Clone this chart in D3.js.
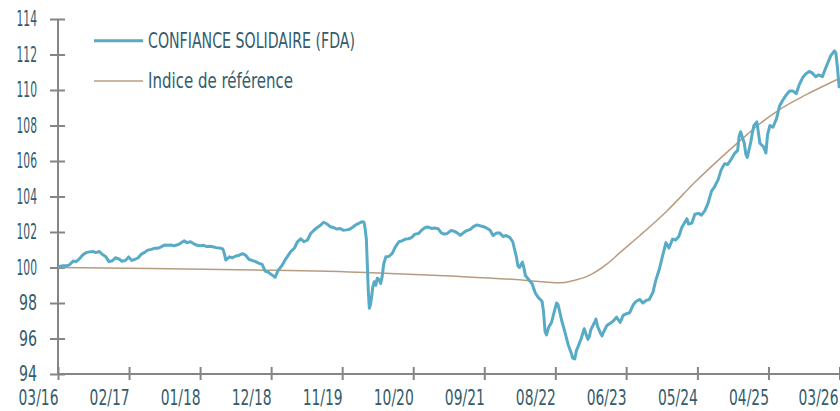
<!DOCTYPE html>
<html>
<head>
<meta charset="utf-8">
<script src="https://cdn.jsdelivr.net/npm/d3@7"></script>
<style>
  html, body { margin: 0; padding: 0; background: #fff; }
  svg { display: block; }
  text { font-family: 'Liberation Sans Narrow', 'DejaVu Sans Condensed', 'Liberation Sans', sans-serif; fill: #335c6c; }
</style>
</head>
<body>
<svg id="chart" width="840" height="411"></svg>
<script>
// ---------- DATA ----------
const seriesNames = ["CONFIANCE SOLIDAIRE (FDA)", "Indice de référence"];

const fdaDates = [
"2016-03-22","2016-04-15","2016-05-01","2016-05-15","2016-06-01","2016-06-15","2016-07-01","2016-07-15","2016-08-01","2016-08-15","2016-09-01","2016-09-15","2016-10-01","2016-10-15","2016-11-01","2016-11-15","2016-12-01","2016-12-15",
"2017-01-01","2017-01-15","2017-02-01","2017-02-15","2017-03-01","2017-03-15","2017-04-01","2017-04-15","2017-05-01","2017-05-15","2017-06-01","2017-06-15","2017-07-01","2017-07-15","2017-08-01","2017-08-15","2017-09-01","2017-09-15","2017-10-01","2017-10-15","2017-11-01","2017-11-15","2017-12-01","2017-12-15",
"2018-01-01","2018-01-15","2018-02-01","2018-02-15","2018-03-01","2018-03-15","2018-04-01","2018-04-15","2018-05-01","2018-05-08","2018-05-15","2018-06-01","2018-06-15","2018-07-01","2018-07-15","2018-08-01","2018-08-15","2018-09-01","2018-09-15","2018-10-01","2018-10-15","2018-11-01","2018-11-15","2018-12-01","2018-12-15",
"2019-01-01","2019-01-15","2019-02-01","2019-02-15","2019-03-01","2019-03-15","2019-04-01","2019-04-15","2019-05-01","2019-05-15","2019-06-01","2019-06-15","2019-07-01","2019-07-15","2019-08-01","2019-08-15","2019-09-01","2019-09-15","2019-10-01","2019-10-15","2019-11-01","2019-11-15","2019-12-01","2019-12-15",
"2020-01-01","2020-01-15","2020-02-01","2020-02-12","2020-02-20","2020-02-24","2020-03-02","2020-03-06","2020-03-11","2020-03-16","2020-03-20","2020-03-25","2020-04-01","2020-04-08","2020-04-15","2020-04-22","2020-05-01","2020-05-08","2020-05-15","2020-05-22","2020-06-01","2020-06-15","2020-07-01","2020-07-15","2020-08-01","2020-08-15","2020-09-01","2020-09-15","2020-10-01","2020-10-15","2020-11-01","2020-11-15","2020-12-01","2020-12-15",
"2021-01-01","2021-01-15","2021-02-01","2021-02-15","2021-03-01","2021-03-15","2021-04-01","2021-04-15","2021-05-01","2021-05-15","2021-06-01","2021-06-15","2021-07-01","2021-07-15","2021-08-01","2021-08-15","2021-09-01","2021-09-15","2021-10-01","2021-10-15","2021-11-01","2021-11-15","2021-12-01","2021-12-15",
"2022-01-01","2022-01-15","2022-02-01","2022-02-08","2022-02-15","2022-03-01","2022-03-08","2022-03-15","2022-04-01","2022-04-15","2022-05-01","2022-05-15","2022-06-01","2022-06-08","2022-06-15","2022-06-22","2022-07-01","2022-07-15","2022-08-01","2022-08-08","2022-08-15","2022-09-01","2022-09-15","2022-10-01","2022-10-15","2022-10-22","2022-11-01","2022-11-08","2022-11-15","2022-12-01","2022-12-15",
"2023-01-01","2023-01-08","2023-01-15","2023-02-01","2023-02-08","2023-02-15","2023-03-01","2023-03-08","2023-03-15","2023-04-01","2023-04-15","2023-05-01","2023-05-15","2023-06-01","2023-06-15","2023-07-01","2023-07-15","2023-08-01","2023-08-15","2023-09-01","2023-09-15","2023-10-01","2023-10-15","2023-11-01","2023-11-15","2023-12-01","2023-12-15",
"2024-01-01","2024-01-15","2024-02-01","2024-02-15","2024-03-01","2024-03-15","2024-04-01","2024-04-08","2024-04-15","2024-05-01","2024-05-15","2024-06-01","2024-06-15","2024-07-01","2024-07-15","2024-08-01","2024-08-15","2024-09-01","2024-09-15","2024-10-01","2024-10-15","2024-11-01","2024-11-15","2024-12-01","2024-12-08","2024-12-15",
"2025-01-01","2025-01-08","2025-01-15","2025-02-01","2025-02-08","2025-02-15","2025-03-01","2025-03-08","2025-03-15","2025-04-01","2025-04-08","2025-04-12","2025-04-20","2025-05-01","2025-05-15","2025-06-01","2025-06-15","2025-07-01","2025-07-15","2025-08-01","2025-08-15","2025-09-01","2025-09-15","2025-10-01","2025-10-15","2025-11-01","2025-11-15","2025-12-01","2025-12-15",
"2026-01-01","2026-01-15","2026-02-01","2026-02-10","2026-02-20","2026-02-26","2026-03-05","2026-03-12","2026-03-21"
];

const fdaValues = [
100.05,100.1,100.1,100.15,100.37,100.33,100.5,100.7,100.84,100.88,100.9,100.84,100.9,100.74,100.6,100.33,100.38,100.55,
100.48,100.35,100.4,100.6,100.4,100.45,100.55,100.75,100.85,100.98,101.02,101.08,101.08,101.15,101.27,101.25,101.27,101.22,101.28,101.36,101.5,101.4,101.45,101.35,
101.25,101.23,101.25,101.18,101.2,101.17,101.12,101.1,101.05,100.8,100.42,100.6,100.55,100.65,100.68,100.78,100.7,100.45,100.4,100.33,100.25,100.18,99.8,99.72,99.6,
99.45,99.85,100.1,100.4,100.65,100.9,101.1,101.45,101.62,101.45,101.55,101.9,102.1,102.24,102.38,102.55,102.45,102.3,102.25,102.17,102.2,102.1,102.12,102.15,
102.3,102.42,102.52,102.58,102.55,102.3,101.6,100.3,98.7,97.7,97.85,98.2,98.9,99.2,99.0,99.4,99.3,99.1,99.5,100.2,100.6,100.62,100.8,101.15,101.45,101.5,101.6,101.62,101.7,101.88,101.92,102.1,102.25,102.28,
102.2,102.22,102.18,101.95,101.88,101.92,102.08,102.05,101.95,101.82,101.98,102.08,102.15,102.3,102.4,102.35,102.3,102.22,102.1,101.8,101.95,101.95,101.75,101.8,
101.7,101.45,100.6,100.1,100.0,100.3,100.0,99.55,99.3,99.1,98.55,98.3,98.1,97.5,96.4,96.2,96.6,96.9,97.7,98.0,97.9,97.0,96.4,95.65,95.2,94.9,94.85,95.3,95.5,96.0,96.55,
95.95,96.1,96.5,96.9,97.1,96.7,96.3,96.15,96.35,96.75,96.85,97.0,97.2,96.9,97.3,97.4,97.45,97.9,98.1,98.2,98.0,98.15,98.2,98.6,99.3,99.9,100.6,
101.4,101.1,101.6,101.55,101.75,102.25,102.6,102.75,102.45,102.5,103.0,103.05,102.95,103.2,103.6,104.3,104.55,104.95,105.5,105.85,105.8,106.1,106.4,106.6,107.4,107.65,
107.0,106.4,106.2,107.1,107.6,108.0,108.2,107.6,107.0,106.8,106.6,106.45,107.5,108.0,107.9,108.4,109.1,109.45,109.7,109.95,109.95,109.8,110.3,110.7,110.9,111.05,110.95,110.75,110.85,
110.75,111.2,111.7,111.95,112.1,112.2,112.1,111.3,110.1
];

const refDates = ["2016-03-22","2017-06-01","2018-10-01","2020-03-01","2021-04-01","2022-04-01","2022-06-15","2022-08-01","2022-09-15","2022-11-01","2023-01-15","2023-04-01","2023-06-01","2023-09-01","2024-01-07","2024-05-15","2024-09-25","2025-01-15","2025-03-15","2025-06-15","2025-10-20","2026-03-21"];
const refValues = [100.0,99.95,99.86,99.72,99.52,99.26,99.18,99.14,99.16,99.28,99.6,100.2,100.85,101.8,103.2,104.8,106.3,107.5,108.1,108.9,109.75,110.65];

const xTickDates  = ["2016-03-22","2017-02-17","2018-01-15","2018-12-13","2019-11-10","2020-10-07","2021-09-04","2022-08-02","2023-06-29","2024-05-27","2025-04-24","2026-03-22"];
const xTickLabels = ["03/16","02/17","01/18","12/18","11/19","10/20","09/21","08/22","06/23","05/24","04/25","03/26"];
const yTickValues = [94,96,98,100,102,104,106,108,110,112,114];

// ---------- CHART ----------
const parse = d3.timeParse("%Y-%m-%d");
const fda = fdaDates.map((d, i) => ({date: parse(d), value: fdaValues[i]}));
const ref = refDates.map((d, i) => ({date: parse(d), value: refValues[i]}));

const svg = d3.select("#chart");
const x = d3.scaleTime().domain([parse("2016-03-22"), parse("2026-03-22")]).range([58, 839.5]);
const y = d3.scaleLinear().domain([94, 114]).range([374, 19]);

const axisColor = "#858585";
const textColor = "#335c6c";
const fontStack = "'Liberation Sans Narrow', 'DejaVu Sans Condensed', sans-serif";

// Y axis
const gy = svg.append("g").attr("transform", "translate(58,0)")
  .call(d3.axisLeft(y).tickValues(yTickValues).tickFormat(d3.format("d")).tickSize(8).tickPadding(13));
gy.select(".domain").attr("stroke", axisColor).attr("stroke-width", 2).attr("d", `M0,${y(114)}V${y(94)}`);
gy.selectAll(".tick line").attr("stroke", axisColor).attr("stroke-width", 2).attr("x1", -8).attr("x2", 7);
gy.selectAll(".tick text").attr("font-size", 21).attr("fill", textColor).attr("font-family", fontStack)
  .each(function(d) {
    const s = String(d);
    d3.select(this).attr("textLength", s.length === 3 ? 20.5 : 18).attr("lengthAdjust", "spacingAndGlyphs");
  });

// X axis
const xTicks = xTickDates.map(parse);
const gx = svg.append("g").attr("transform", "translate(0,374)")
  .call(d3.axisBottom(x).tickValues(xTicks).tickFormat((d, i) => xTickLabels[i]).tickSize(6).tickPadding(0));
gx.select(".domain").attr("stroke", axisColor).attr("stroke-width", 2).attr("d", `M58,0H840`);
gx.selectAll(".tick line").attr("stroke", axisColor).attr("stroke-width", 2).attr("y1", -7).attr("y2", 6);
gx.selectAll(".tick text").attr("font-size", 21).attr("fill", textColor).attr("font-family", fontStack)
  .attr("text-anchor", "end").attr("dy", null).attr("x", 0).attr("y", 31)
  .each(function(d, i) {
    const w = this.getComputedTextLength();
    const sx = 40 / w;
    const shift = i === xTickLabels.length - 1 ? -1.5 : 0;
    d3.select(this).attr("transform", `translate(${shift},0) scale(${sx},1)`);
  });

// Lines
svg.append("path").datum(ref)
  .attr("fill", "none").attr("stroke", "#b89c80").attr("stroke-width", 1.5)
  .attr("d", d3.line().x(d => x(d.date)).y(d => y(d.value)).curve(d3.curveMonotoneX));
svg.append("path").datum(fda)
  .attr("fill", "none").attr("stroke", "#58abc6").attr("stroke-width", 3).attr("stroke-linejoin", "round")
  .attr("d", d3.line().x(d => x(d.date)).y(d => y(d.value)));

// Legend
const legend = svg.append("g");
const legendItems = [
  {name: seriesNames[0], color: "#58abc6", width: 3, yy: 40.7, len: 207},
  {name: seriesNames[1], color: "#b89c80", width: 1.5, yy: 81, len: 145}
];
legendItems.forEach(it => {
  legend.append("line").attr("x1", 94).attr("x2", 143).attr("y1", it.yy).attr("y2", it.yy)
    .attr("stroke", it.color).attr("stroke-width", it.width);
  legend.append("text").attr("x", 148).attr("y", it.yy).attr("dy", "0.36em")
    .attr("font-size", 20.5).attr("fill", textColor)
    .attr("textLength", it.len).attr("lengthAdjust", "spacingAndGlyphs")
    .text(it.name);
});
</script>
</body>
</html>
